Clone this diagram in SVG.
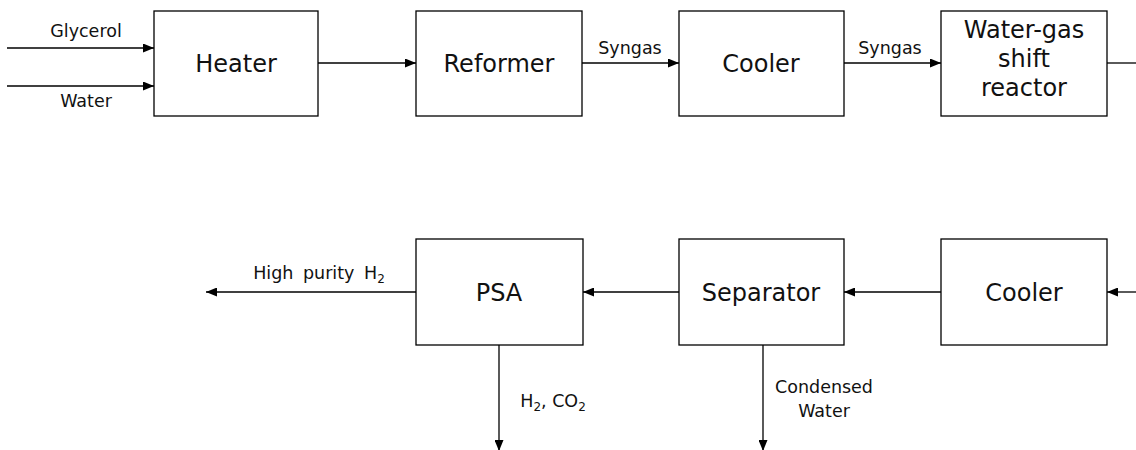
<svg xmlns="http://www.w3.org/2000/svg" width="1136" height="450" viewBox="0 0 1136 450">
<style>
.box{fill:#fff;stroke:#000;stroke-width:1.3}
.ln{fill:none;stroke:#000;stroke-width:1.3;marker-end:url(#ah)}
.nl{font-family:"DejaVu Sans","Liberation Sans",sans-serif;font-size:24px;fill:#111;text-anchor:middle}
.sl{font-family:"DejaVu Sans","Liberation Sans",sans-serif;font-size:17.5px;fill:#111;text-anchor:middle}
.sub{font-size:12px}
</style>
<defs>
<marker id="ah" viewBox="0 0 11 9" refX="11" refY="4.5" markerWidth="11" markerHeight="9" markerUnits="userSpaceOnUse" orient="auto">
<path d="M0,0 L11,4.5 L0,9 Z" fill="#000"/>
</marker>
</defs>
<rect width="1136" height="450" fill="#fff"/>
<g id="connectors">
<line class="ln" x1="7" y1="48" x2="154" y2="48"/>
<line class="ln" x1="7" y1="86" x2="154" y2="86"/>
<line class="ln" x1="318" y1="63" x2="416" y2="63"/>
<line class="ln" x1="582" y1="63" x2="679" y2="63"/>
<line class="ln" x1="844" y1="63" x2="941" y2="63"/>
<line x1="1107" y1="63" x2="1136" y2="63" stroke="#000" stroke-width="1.3"/>
<line class="ln" x1="1136" y1="292" x2="1107" y2="292"/>
<line class="ln" x1="941" y1="292" x2="844" y2="292"/>
<line class="ln" x1="679" y1="292" x2="583" y2="292"/>
<line class="ln" x1="416" y1="292" x2="206" y2="292"/>
<line class="ln" x1="499" y1="345" x2="499" y2="451"/>
<line class="ln" x1="763" y1="345" x2="763" y2="451"/>
<text class="sl" x="86" y="37">Glycerol</text>
<text class="sl" x="86" y="107">Water</text>
<text class="sl" x="630" y="54">Syngas</text>
<text class="sl" x="890" y="54">Syngas</text>
<text class="sl" x="319" y="279" word-spacing="4">High purity H<tspan class="sub" dy="4">2</tspan></text>
<text class="sl" x="553" y="407">H<tspan class="sub" dy="4">2</tspan><tspan dy="-4">, CO</tspan><tspan class="sub" dy="4">2</tspan></text>
<text class="sl" x="824" y="393">Condensed</text>
<text class="sl" x="824" y="417">Water</text>
</g>
<g id="heater"><rect class="box" x="154" y="11" width="164" height="105"/><text class="nl" x="236" y="72">Heater</text></g>
<g id="reformer"><rect class="box" x="416" y="11" width="166" height="105"/><text class="nl" x="499" y="72">Reformer</text></g>
<g id="cooler1"><rect class="box" x="679" y="11" width="165" height="105"/><text class="nl" x="761" y="72">Cooler</text></g>
<g id="wgs"><rect class="box" x="941" y="11" width="166" height="105"/><text class="nl" x="1024" y="38">Water-gas</text><text class="nl" x="1024" y="67">shift</text><text class="nl" x="1024" y="96">reactor</text></g>
<g id="psa"><rect class="box" x="416" y="239" width="167" height="106"/><text class="nl" x="499" y="301">PSA</text></g>
<g id="separator"><rect class="box" x="679" y="239" width="165" height="106"/><text class="nl" x="761" y="301">Separator</text></g>
<g id="cooler2"><rect class="box" x="941" y="239" width="166" height="106"/><text class="nl" x="1024" y="301">Cooler</text></g>
</svg>
